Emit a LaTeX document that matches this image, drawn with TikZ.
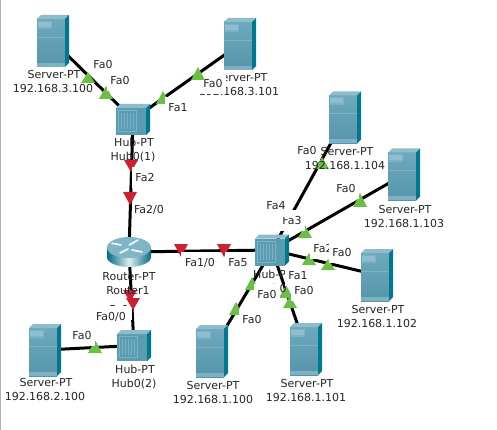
\documentclass[tikz,border=0pt]{standalone}
\usepackage{fontspec}
\setmainfont{DejaVu Sans}
\definecolor{frontc}{HTML}{5A9DB3}
\definecolor{topc}{HTML}{8DBCCB}
\definecolor{sidec}{HTML}{00788F}
\definecolor{platec}{HTML}{8FBFCE}
\definecolor{bandc}{HTML}{7DB1C3}
\definecolor{greenc}{HTML}{6CBF45}
\definecolor{redc}{HTML}{CE2033}
\definecolor{edgec}{HTML}{B0B0B0}
\tikzset{
  srvnode/.style={inner sep=0pt,minimum width=32pt,minimum height=52pt},
  hubnode/.style={inner sep=0pt,minimum width=34pt,minimum height=31pt},
  rtrnode/.style={inner sep=0pt,minimum width=44pt,minimum height=30pt},
  link/.style={line width=3pt,black},
  devlbl/.style={inner sep=0pt,text height=8pt,text depth=0pt,font=\fontsize{11}{13}\selectfont,text=black!85},
  portlbl/.style={fill=white,inner xsep=3.8pt,inner ysep=0pt,minimum height=21pt,text height=8pt,text depth=0pt,font=\fontsize{11}{13}\selectfont,text=black!85},
  servericon/.pic={
    \shade[top color=frontc!88!white,bottom color=frontc!95!black] (-16,-22) rectangle (12,26);
    \fill[topc] (-16,-22) -- (-12,-26) -- (16,-26) -- (12,-22) -- cycle;
    \fill[sidec] (12,-22) -- (16,-26) -- (16,22) -- (12,26) -- cycle;
    \fill[bandc] (-16,-4.3) rectangle (12,-3.3);
    \fill[bandc] (-16,22) rectangle (12,26);
    \fill[bandc] (-15,-20) rectangle (-1,-12);
    \fill[platec] (-14.7,-19) rectangle (-2.5,-14);
  },
  hubicon/.pic={
    \fill[frontc] (-17,-11.5) rectangle (13,15.5);
    \fill[topc] (-17,-11.5) -- (-13,-15.5) -- (17,-15.5) -- (13,-11.5) -- cycle;
    \fill[sidec] (13,-11.5) -- (17,-15.5) -- (17,11.5) -- (13,15.5) -- cycle;
    \draw[bandc,line width=.9pt] (-15,-9) rectangle (3,12);
    \foreach \k in {-12,-9,-6,-3,0} \draw[bandc,line width=.8pt] (\k,-6.5) -- (\k,9.5);
  },
  routericon/.pic={
    \shade[left color=sidec!90!black,right color=sidec!90!black,middle color=white!70!topc]
      (-22,-4.5) -- (-22,5) arc[start angle=180,end angle=0,x radius=22,y radius=10] -- (22,-4.5) -- cycle;
    \fill[topc!90!sidec] (0,-4.5) ellipse[x radius=22,y radius=10.5];
    \draw[white!88!topc,line width=1.7pt,line cap=round] (-17,-8.7) -- (-8,-7) (0.3,-7) -- (9,-12)
      (-9,1) -- (-1,-3) (3,-2) -- (13,0);
  },
}
\newcommand{\gtri}[3]{\fill[greenc] (#1-7,#3) -- (#1,#2) -- (#1+7,#3) -- cycle;}
\newcommand{\rtri}[3]{\fill[redc] (#1-7,#2) -- (#1+7,#2) -- (#1,#3) -- cycle;}
\begin{document}
\begin{tikzpicture}[x=1pt,y=-1pt]
\useasboundingbox (0,0) rectangle (497,430);
\fill[white] (0,0) rectangle (497,430);
\fill[edgec] (0,0) rectangle (1,430);
% device positions
\node[srvnode] (s3a) at (53,41) {};
\node[srvnode] (s3b) at (240,44) {};
\node[srvnode] (s14) at (345,117.5) {};
\node[srvnode] (s13) at (404,174.5) {};
\node[srvnode] (s12) at (377,275) {};
\node[srvnode] (s11) at (306,349) {};
\node[srvnode] (s10) at (212,351) {};
\node[srvnode] (s2) at (45,350) {};
\node[hubnode] (h1) at (133,119.5) {};
\node[hubnode] (h2) at (134,345.5) {};
\node[hubnode] (hf) at (272,250) {};
\node[rtrnode] (r) at (129,252) {};
% connectors
\draw[link] (s3a.center) -- (h1.center);
\draw[link] (s3b.center) -- (h1.center);
\draw[link] (h1.center) -- (r.center);
\draw[link] (r.center) -- (h2.center);
\draw[link] (h2.center) -- (s2.center);
\draw[link] (r.center) -- (hf.center);
\draw[link] (hf.center) -- (s14.center);
\draw[link] (hf.center) -- (s13.center);
\draw[link] (hf.center) -- (s12.center);
\draw[link] (hf.center) -- (s11.center);
\draw[link] (hf.center) -- (s10.center);
% status triangles
\gtri{88}{72}{83}
\gtri{106}{86}{99}
\gtri{163}{91}{104}
\gtri{95}{340}{353}
\gtri{360}{193}{207}
\gtri{305}{225}{238}
\gtri{309}{253}{265}
\gtri{328}{259}{270}
\gtri{252}{277}{290}
\gtri{236}{302}{315}
\gtri{286}{285}{298}
\gtri{290}{296}{308}
\rtri{131}{160}{172}
\rtri{130}{192}{205}
\rtri{130}{290}{302}
\rtri{181}{244}{257}
\rtri{224}{244}{257}
% icons
\pic at (s3a) {servericon};
\pic at (s3b) {servericon};
\pic at (s14) {servericon};
\pic at (s13) {servericon};
\pic at (s12) {servericon};
\pic at (s11) {servericon};
\pic at (s10) {servericon};
\pic at (s2) {servericon};
\pic at (h1) {hubicon};
\pic at (h2) {hubicon};
\pic at (hf) {hubicon};
\pic at (r) {routericon};
% port label sitting under the device text
\node[portlbl] (p14far) at (307,151) {Fa0};
\gtri{322}{157}{169}
% device labels
\node[devlbl] (t3a1) at (54,75) {Server-PT};
\node[devlbl] (t3a2) at (53,89) {192.168.3.100};
\node[devlbl] (t3b1) at (241,78) {Server-PT};
\node[devlbl] (t3b2) at (239,92) {192.168.3.101};
\node[devlbl] (th11) at (134,143) {Hub-PT};
\node[devlbl] (th12) at (133,157) {Hub0(1)};
\node[devlbl] (tr1) at (129,276) {Router-PT};
\node[devlbl] (tr2) at (128,290) {Router1};
\node[devlbl] (th21) at (135,369) {Hub-PT};
\node[devlbl] (th22) at (134,383) {Hub0(2)};
\node[devlbl] (t21) at (46,382) {Server-PT};
\node[devlbl] (t22) at (45,396) {192.168.2.100};
\node[devlbl] (t101) at (213,385) {Server-PT};
\node[devlbl] (t102) at (213,399) {192.168.1.100};
\node[devlbl] (t111) at (307,383) {Server-PT};
\node[devlbl] (t112) at (306,397) {192.168.1.101};
\node[devlbl] (t121) at (378,309) {Server-PT};
\node[devlbl] (t122) at (377,323) {192.168.1.102};
\node[devlbl] (t131) at (405,209) {Server-PT};
\node[devlbl] (t132) at (404,223) {192.168.1.103};
\node[devlbl] (t141) at (347,152) {Server-PT};
\node[devlbl] (t142) at (345,166) {192.168.1.104};
\node[devlbl] (thf1) at (273,274) {Hub-PT};
\node[devlbl] (thf2) at (272,288) {Hub0};
% port labels
\node[portlbl] at (103,65) {Fa0};
\node[portlbl] at (120,81) {Fa0};
\node[portlbl] at (178,108) {Fa1};
\node[portlbl] at (213,84) {Fa0};
\gtri{198}{67}{80}
\node[portlbl] at (145,178) {Fa2};
\node[portlbl,inner xsep=1.5pt] at (149,210) {Fa2/0};
\node[portlbl] at (119,309) {Fa0};
\rtri{133}{298}{310}
\node[portlbl] at (111,316) {Fa0/0};
\node[portlbl] at (82,335) {Fa0};
\node[portlbl] at (200,262) {Fa1/0};
\node[portlbl] at (238,262) {Fa5};
\node[portlbl] at (292,220) {Fa3};
\node[portlbl] at (276,206) {Fa4};
\node[portlbl] at (346,189) {Fa0};
\node[portlbl] at (323,248) {Fa2};
\node[portlbl] at (342,252) {Fa0};
\node[portlbl] at (298,275) {Fa1};
\node[portlbl] at (304,290) {Fa0};
\node[portlbl] at (267,294) {Fa0};
\node[portlbl] at (252,319) {Fa0};
\end{tikzpicture}
\end{document}
